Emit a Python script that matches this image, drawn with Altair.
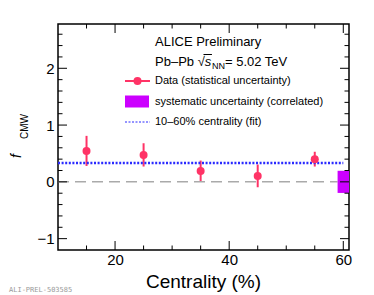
import altair as alt
import pandas as pd

# ---------------- data ----------------
centrality = [15, 25, 35, 45, 55]
f_cmw = [0.545, 0.475, 0.19, 0.105, 0.40]
stat_err = [0.265, 0.205, 0.185, 0.20, 0.13]

fit_value = 0.334
fit_range = [10, 60]
syst_x = [59, 61]
syst_y = [-0.195, 0.195]
zero_range = [10, 59]

x_domain = [10, 61]
y_domain = [-1.2, 2.78]
x_labels = [20, 40, 60]
y_labels = [-1, 0, 1, 2]
x_minor = [15, 25, 30, 35, 45, 50, 55]
y_minor = [-0.8, -0.6, -0.4, -0.2, 0.2, 0.4, 0.6, 0.8,
           1.2, 1.4, 1.6, 1.8, 2.2, 2.4, 2.6]

# ---------------- style ----------------
W, H = 291, 226
FONT = "Liberation Sans"
RED = "#ff3366"
MAGENTA = "#cc00ff"
BLUE = "#2a2aff"

xs = alt.Scale(domain=x_domain, nice=False, zero=False)
ys = alt.Scale(domain=y_domain, nice=False, zero=False)

pts_df = pd.DataFrame({
    "c": centrality,
    "f": f_cmw,
    "lo": [v - e for v, e in zip(f_cmw, stat_err)],
    "hi": [v + e for v, e in zip(f_cmw, stat_err)],
})
one = pd.DataFrame({"a": [0]})

xaxis = alt.Axis(values=x_labels, ticks=False, domain=False, grid=False,
                 labelFontSize=15, labelPadding=2, labelFont=FONT,
                 labelColor="black", title=None)
yaxis = alt.Axis(values=y_labels, ticks=False, domain=False, grid=False,
                 labelFontSize=15, labelPadding=4, labelFont=FONT,
                 labelColor="black", title=None)


def X(field):
    return alt.X(field, scale=xs, axis=xaxis)


def Y(field):
    return alt.Y(field, scale=ys, axis=yaxis)


err = alt.Chart(pts_df).mark_rule(color=RED, strokeWidth=2).encode(
    x=X("c:Q"), y=Y("lo:Q"), y2="hi:Q",
)
pts = alt.Chart(pts_df).mark_point(filled=True, shape="circle", size=64,
                                   color=RED, opacity=1).encode(
    x=X("c:Q"), y=Y("f:Q"),
)

zero_df = pd.DataFrame({"x1": [zero_range[0]], "x2": [zero_range[1]], "y": [0]})
zero = alt.Chart(zero_df).mark_rule(color="#aaaaaa", strokeWidth=1.5,
                                    strokeDash=[11, 6]).encode(
    x=X("x1:Q"), x2="x2:Q", y=Y("y:Q"),
)

fit_df = pd.DataFrame({"x1": [fit_range[0]], "x2": [fit_range[1]], "y": [fit_value]})
fit = alt.Chart(fit_df).mark_rule(color=BLUE, strokeWidth=2.5,
                                  strokeDash=[2, 1.6]).encode(
    x=X("x1:Q"), x2="x2:Q", y=Y("y:Q"),
)

syst_df = pd.DataFrame({"x1": [syst_x[0]], "x2": [syst_x[1]],
                        "y1": [syst_y[0]], "y2": [syst_y[1]]})
syst = alt.Chart(syst_df).mark_rect(color=MAGENTA).encode(
    x=X("x1:Q"), x2="x2:Q", y=Y("y1:Q"), y2="y2:Q",
)


# ---------------- inward ticks ----------------
def yticks(vals, length):
    d = pd.DataFrame({"v": vals})
    left = alt.Chart(d).mark_rule(color="black", strokeWidth=1).encode(
        y=Y("v:Q"), x=alt.value(0), x2=alt.value(length))
    right = alt.Chart(d).mark_rule(color="black", strokeWidth=1).encode(
        y=Y("v:Q"), x=alt.value(W - length), x2=alt.value(W))
    return [left, right]


def xticks(vals, length):
    d = pd.DataFrame({"v": vals})
    bottom = alt.Chart(d).mark_rule(color="black", strokeWidth=1).encode(
        x=X("v:Q"), y=alt.value(H - length), y2=alt.value(H))
    top = alt.Chart(d).mark_rule(color="black", strokeWidth=1).encode(
        x=X("v:Q"), y=alt.value(0), y2=alt.value(length))
    return [bottom, top]


ticks = yticks(y_labels, 9) + yticks(y_minor, 4.5) + xticks(x_labels, 9) + xticks(x_minor, 4.5)


# ---------------- text / legend ----------------
def txt(s, x, y, size=11, **kw):
    return alt.Chart(one).mark_text(text=s, font=kw.pop("font", FONT), fontSize=size,
                                    align=kw.pop("align", "left"),
                                    baseline=kw.pop("baseline", "middle"),
                                    color=kw.pop("color", "black"), **kw).encode(
        x=alt.value(x), y=alt.value(y))


LX = 97
hdr = 13
texts = [txt("ALICE Preliminary", LX, 18, hdr)]
x0 = LX
texts.append(txt("Pb–Pb", x0, 38, hdr))
x_sqrt = x0 + 3.28 * hdr
texts.append(txt("√", x_sqrt, 38, hdr))
x_s = x_sqrt + 0.55 * hdr
texts.append(txt("s", x_s, 38, hdr, fontStyle="italic"))
texts.append(alt.Chart(one).mark_rule(color="black", strokeWidth=1).encode(
    x=alt.value(x_sqrt + 0.45 * hdr), x2=alt.value(x_s + 0.55 * hdr), y=alt.value(30.5)))
x_nn = x_s + 0.55 * hdr
texts.append(txt("NN", x_nn, 42, 9))
x_eq = x_nn + 1.45 * 9
texts.append(txt("= 5.02 TeV", x_eq, 38, hdr))

leg = 11
texts += [
    txt("Data (statistical uncertainty)", LX, 57, leg),
    txt("systematic uncertainty (correlated)", LX, 78, leg),
    txt("10–60% centrality (fit)", LX, 98, leg),
]
legend_marks = [
    alt.Chart(one).mark_rule(color=RED, strokeWidth=2).encode(
        x=alt.value(67), x2=alt.value(92), y=alt.value(57)),
    alt.Chart(one).mark_point(filled=True, shape="circle", size=64, color=RED, opacity=1).encode(
        x=alt.value(79.5), y=alt.value(57)),
    alt.Chart(one).mark_rect(color=MAGENTA).encode(
        x=alt.value(67), x2=alt.value(91), y=alt.value(71.5), y2=alt.value(83.5)),
    alt.Chart(one).mark_rule(color=BLUE, strokeWidth=1, strokeDash=[2, 1.5]).encode(
        x=alt.value(67), x2=alt.value(92), y=alt.value(98)),
]

titles = [
    txt("Centrality (%)", W / 2, 258, 19, align="center"),
    txt("f", -37, 134, 14, fontStyle="italic", angle=270, baseline="alphabetic"),
    txt("CMW", -30, 115, 10, angle=270, baseline="alphabetic"),
    txt("ALI-PREL-503585", -49, 266, 7, font="DejaVu Sans Mono", color="#9a9a9a"),
]

chart = alt.layer(err, zero, fit, syst, pts, *ticks, *legend_marks, *texts, *titles).properties(
    width=W, height=H,
    background="white",
    padding={"left": 50, "top": 16, "right": 17, "bottom": 45},
    autosize=alt.AutoSizeParams(type="none"),
).configure_view(stroke="black", strokeWidth=1.5)

chart.save("out.html", embed_options={"renderer": "svg", "actions": False})
